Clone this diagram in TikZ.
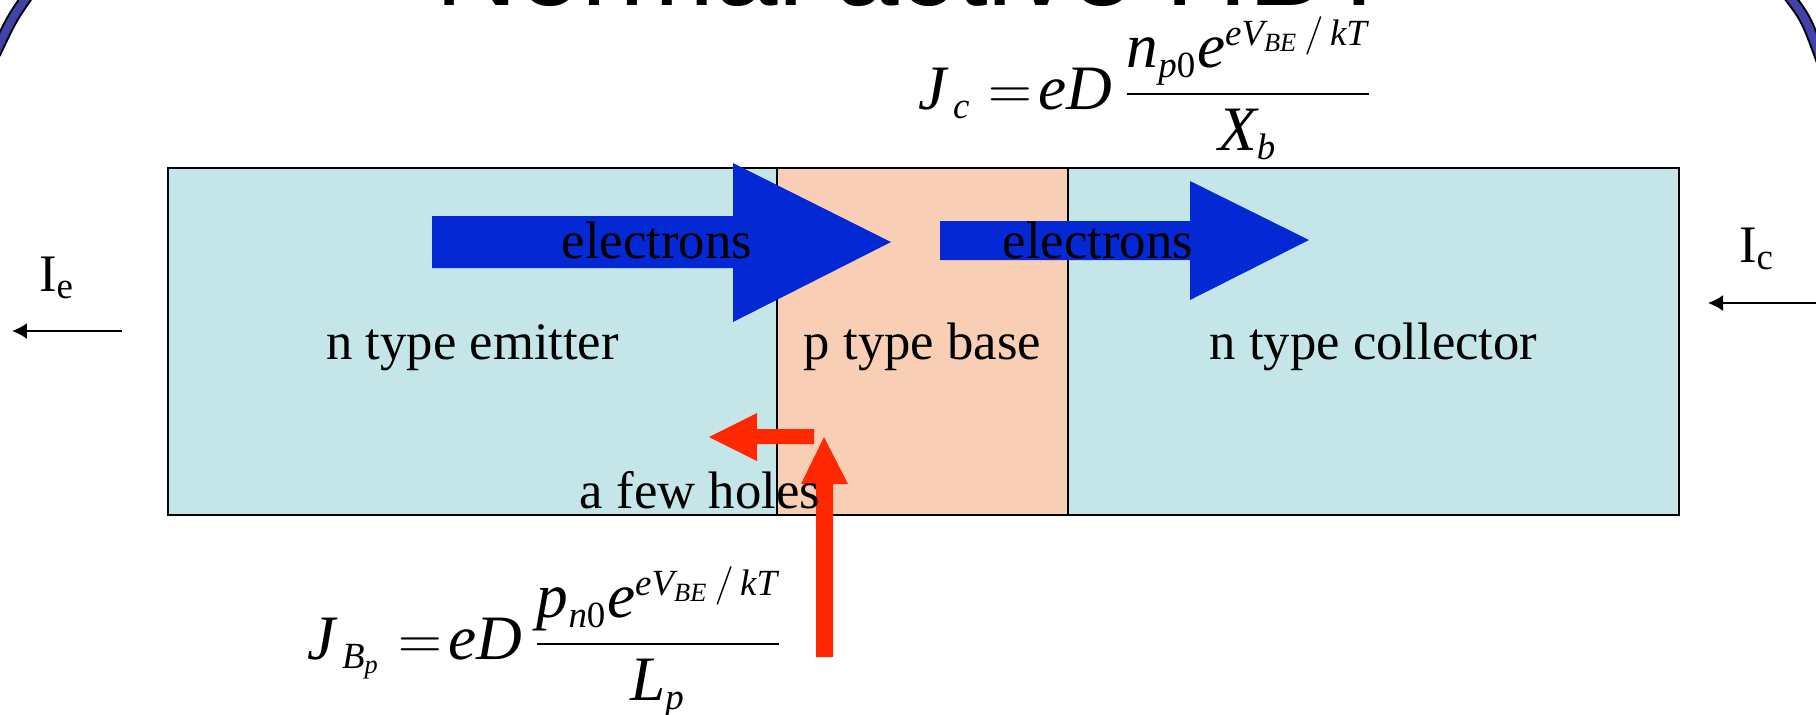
\documentclass[tikz,border=0pt]{standalone}
\usepackage{amsmath}
\usepackage{fontspec}
\setmainfont{Liberation Serif}
\newfontfamily\titlefont{Liberation Sans}
\usetikzlibrary{positioning,arrows.meta}
\definecolor{emitfill}{RGB}{197,230,232}
\definecolor{basefill}{RGB}{248,207,181}
\definecolor{elblue}{RGB}{4,40,212}
\definecolor{holered}{RGB}{255,40,0}
\definecolor{frameblue}{RGB}{66,66,170}
\DeclareMathSizes{18}{18}{10.5}{7.5}
\newcommand{\mi}[1]{\mathit{#1}}

\begin{document}
\begin{tikzpicture}[
	x=0.1mm, y=-0.1mm,
	region/.style={rectangle, draw=black, line width=0.4pt, outer sep=0pt, inner sep=0pt, minimum height=34.7mm, text height=10pt, text depth=0pt, font=\fontsize{15}{18}\selectfont},
	txt/.style={font=\fontsize{15}{18}\selectfont, inner sep=0pt},
	eqn/.style={font=\fontsize{18}{22}\selectfont, inner sep=0pt},
	currentarrow/.style={-{Latex[length=1.5mm,width=1.6mm]}, line width=0.55pt},
	edgeout/.style={line width=1.2mm, draw=black},
	edgein/.style={line width=0.8mm, draw=frameblue}
]
\useasboundingbox (0,0) rectangle (1816,714);
\clip (0,0) rectangle (1816,714);
% slide title, mostly cut off
\node (title) [anchor=base, inner sep=0pt, font=\titlefont\fontsize{32.5}{36}\selectfont] at (915,5) {Normal active HBT};
% slide border
\draw [edgeout] (31,-9) .. controls (12,18) .. (-5,54);
\draw [edgein] (31,-9) .. controls (12,18) .. (-5,54);
\draw [edgeout] (1785,-9) .. controls (1806,18) .. (1822,62);
\draw [edgein] (1785,-9) .. controls (1806,18) .. (1822,62);
% the three regions
\node (emitter) [region, fill=emitfill, minimum width=60.9mm] at (472.5,341.5) {n type emitter};
\node (base) [region, fill=basefill, minimum width=29.1mm, right=0pt of emitter] {p type base};
\node (collector) [region, fill=emitfill, minimum width=61.1mm, right=0pt of base] {n type collector};
\draw [line width=0.7pt] (emitter.north west) rectangle (collector.south east);
% electron flow
\fill [elblue] (432,216) -- (733,216) -- (733,163) -- (891,242) -- (733,322) -- (733,268) -- (432,268) -- cycle;
\fill [elblue] (940,221) -- (1190,221) -- (1190,181) -- (1309,240) -- (1190,300) -- (1190,260) -- (940,260) -- cycle;
\node (el1) [txt, anchor=base] at (657,258) {electrons};
\node (el2) [txt, anchor=base] at (1098,258) {electrons};
% hole flow
\fill [holered] (814,429) -- (757,429) -- (757,413) -- (709,437) -- (757,461) -- (757,444) -- (814,444) -- cycle;
\fill [holered] (816,657) -- (816,484) -- (801,484) -- (824,437) -- (848,484) -- (833,484) -- (833,657) -- cycle;
\node (holes) [txt, anchor=base] at (700,508) {a few holes};
% terminal currents
\node (ie) [txt] at (57,278) {I\textsubscript{e}};
\node (ic) [txt] at (1757,249) {I\textsubscript{c}};
\coordinate (ieA) at (122,331);
\coordinate (ieB) at (12,331);
\coordinate (icA) at (1816,303);
\coordinate (icB) at (1708,303);
\draw [currentarrow] (ieA) -- (ieB);
\draw [currentarrow] (icA) -- (icB);
% current densities
\node (jc) [eqn, anchor=base west] at (918,109) {$\mi{J}_{\,\mi{c}} =\! \mi{eD}\,\dfrac{\mi{n}_{\mi{p}\mathrm{0}}\mi{e}^{\mi{eV}_{\mi{BE}}\,/\,\mi{kT}}}{\mi{X}_{\mi{b}}}$};
\node (jb) [eqn, anchor=base west] at (307,659) {$\mi{J}_{\,\mi{B}_{\mi{p}}} =\! \mi{eD}\,\dfrac{\mi{p}_{\mi{n}\mathrm{0}}\mi{e}^{\mi{eV}_{\mi{BE}}\,/\,\mi{kT}}}{\mi{L}_{\mi{p}}}$};
\end{tikzpicture}
\end{document}
